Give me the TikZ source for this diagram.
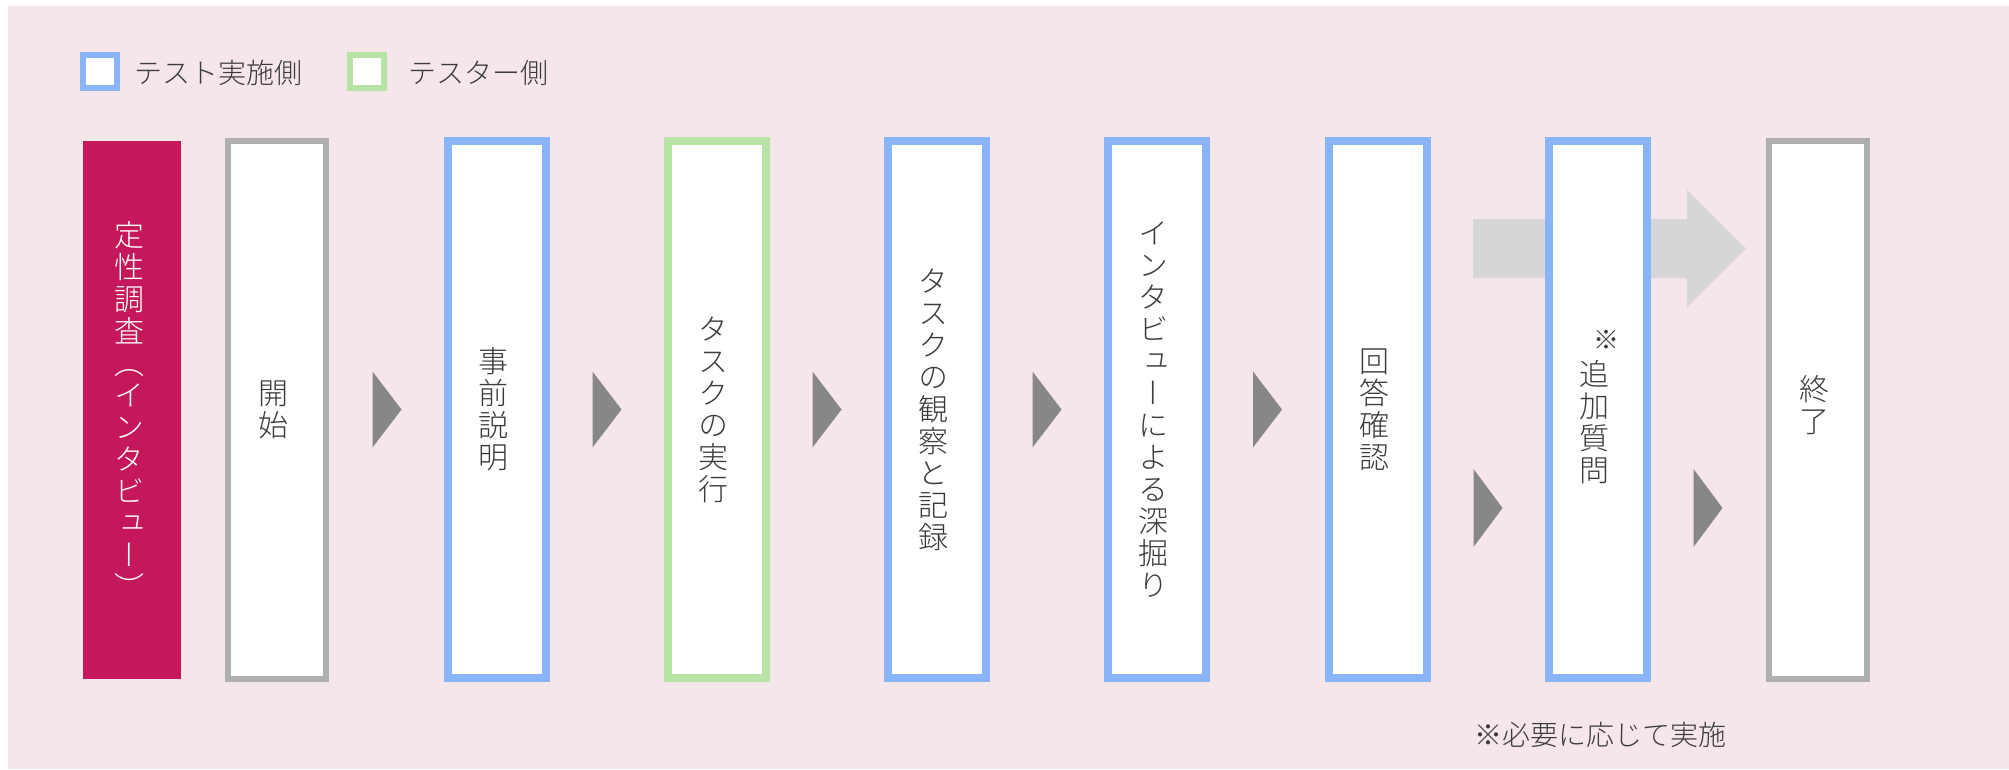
\documentclass[tikz,border=0pt]{standalone}
\usepackage{fontspec}
\setmainfont{Noto Sans CJK JP}[UprightFont=* Light]
\newfontfamily\jpv{Noto Sans CJK JP}[UprightFont=* Light, RawFeature=+vert]
\usetikzlibrary{calc}
\definecolor{bgpink}{HTML}{F5E6E9}
\definecolor{crim}{HTML}{C5185A}
\definecolor{tblue}{HTML}{8AB4F8}
\definecolor{tgreen}{HTML}{B7E4A5}
\definecolor{tgray}{HTML}{AFAFAF}
\definecolor{darr}{HTML}{878787}
\definecolor{larr}{HTML}{D6D6D6}
\definecolor{txt}{HTML}{3C3C3C}
\begin{document}
\begin{tikzpicture}[x=1pt,y=-1pt,
  stepbox/.style={draw, fill=white, line width=8pt, minimum width=98pt, minimum height=537pt, inner sep=0pt},
  bluebox/.style={stepbox, draw=tblue},
  greenbox/.style={stepbox, draw=tgreen},
  graybox/.style={stepbox, draw=tgray, line width=6pt, minimum width=98pt, minimum height=538pt},
  boxtext/.style={inner sep=0pt, align=center, text=txt, font=\jpv\fontsize{30}{32}\selectfont},
  tri/.style={fill=darr},
  legtext/.style={anchor=west, text=txt, font=\fontsize{28}{28}\selectfont, inner sep=0pt},
  legbox/.style={draw, fill=white, line width=6pt, minimum width=34pt, minimum height=33pt, inner sep=0pt}
]
\useasboundingbox (0,0) rectangle (2009,769);
\fill[bgpink] (8,6) rectangle (2009,769);

% legend
\node[legbox, draw=tblue] (legb) at (100,71.5) {};
\node[legtext] (legbt) at (134,73) {テスト実施側};
\node[legbox, draw=tgreen] (legg) at (366.5,71.5) {};
\node[legtext] (leggt) at (408,73) {テスター側};

% title bar
\node[fill=crim, minimum width=98pt, minimum height=538pt, inner sep=0pt] (qual) at (132,410) {};
\node[boxtext, text=white] (qual-t) at ([xshift=-3pt]qual.center) {定\\性\\調\\査\\（\\イ\\ン\\タ\\ビ\\ュ\\ー\\）};

% steps
\node[graybox] (start) at (277,409.5) {};
\node[bluebox] (expl) at (497,409.5) {};
\node[greenbox] (task) at (717,409.5) {};
\node[bluebox] (obs) at (937,409.5) {};
\node[bluebox] (intv) at (1157,409.5) {};
\node[bluebox] (ans) at (1378,409.5) {};
\node[graybox] (end) at (1818,409.5) {};

% big bypass arrow (behind the optional step)
\coordinate (bt) at ($(ans.center)+(95,-161)$);
\coordinate (bh) at ($(end.center)+(-72,-161)$);
\fill[larr] ($(bt)+(0,-29.5)$) -- ($(bh)+(-59,-29.5)$) -- ($(bh)+(-59,-58.5)$) -- (bh)
  -- ($(bh)+(-59,58.5)$) -- ($(bh)+(-59,29.5)$) -- ($(bt)+(0,29.5)$) -- cycle;

\node[bluebox] (add) at (1598,409.5) {};

% labels
\node[boxtext] (start-t) at ([xshift=-4pt]start.center) {開\\始};
\node[boxtext] (expl-t) at ([xshift=-4pt]expl.center) {事\\前\\説\\明};
\node[boxtext] (task-t) at ([xshift=-4pt]task.center) {タ\\ス\\ク\\の\\実\\行};
\node[boxtext] (obs-t) at ([xshift=-4pt]obs.center) {タ\\ス\\ク\\の\\観\\察\\と\\記\\録};
\node[boxtext] (intv-t) at ([xshift=-4pt]intv.center) {イ\\ン\\タ\\ビ\\ュ\\ー\\に\\よ\\る\\深\\掘\\り};
\node[boxtext] (ans-t) at ([xshift=-4pt]ans.center) {回\\答\\確\\認};
\node[boxtext] (add-t) at ([xshift=-4pt,yshift=2pt]add.center) {{\fontsize{26}{26}\selectfont\makebox[50pt][r]{※}}\\[4pt]追\\加\\質\\問};
\node[boxtext] (end-t) at ([xshift=-4pt,yshift=4pt]end.center) {終\\了};

% step markers
\fill[tri] ($(start.center)!0.5!(expl.center)+(-14.5,-38)$) -- ++(29,38) -- ++(-29,38) -- cycle;
\fill[tri] ($(expl.center)!0.5!(task.center)+(-14.5,-38)$) -- ++(29,38) -- ++(-29,38) -- cycle;
\fill[tri] ($(task.center)!0.5!(obs.center)+(-14.5,-38)$) -- ++(29,38) -- ++(-29,38) -- cycle;
\fill[tri] ($(obs.center)!0.5!(intv.center)+(-14.5,-38)$) -- ++(29,38) -- ++(-29,38) -- cycle;
\fill[tri] ($(intv.center)!0.5!(ans.center)+(-14.5,-38)$) -- ++(29,38) -- ++(-29,38) -- cycle;
\fill[tri] ($(ans.center)!0.5!(add.center)+(-14.5,59.5)$) -- ++(29,39) -- ++(-29,39) -- cycle;
\fill[tri] ($(add.center)!0.5!(end.center)+(-14.5,59.5)$) -- ++(29,39) -- ++(-29,39) -- cycle;

% footnote
\node[legtext] (note) at (1474,735) {※必要に応じて実施};
\end{tikzpicture}
\end{document}
